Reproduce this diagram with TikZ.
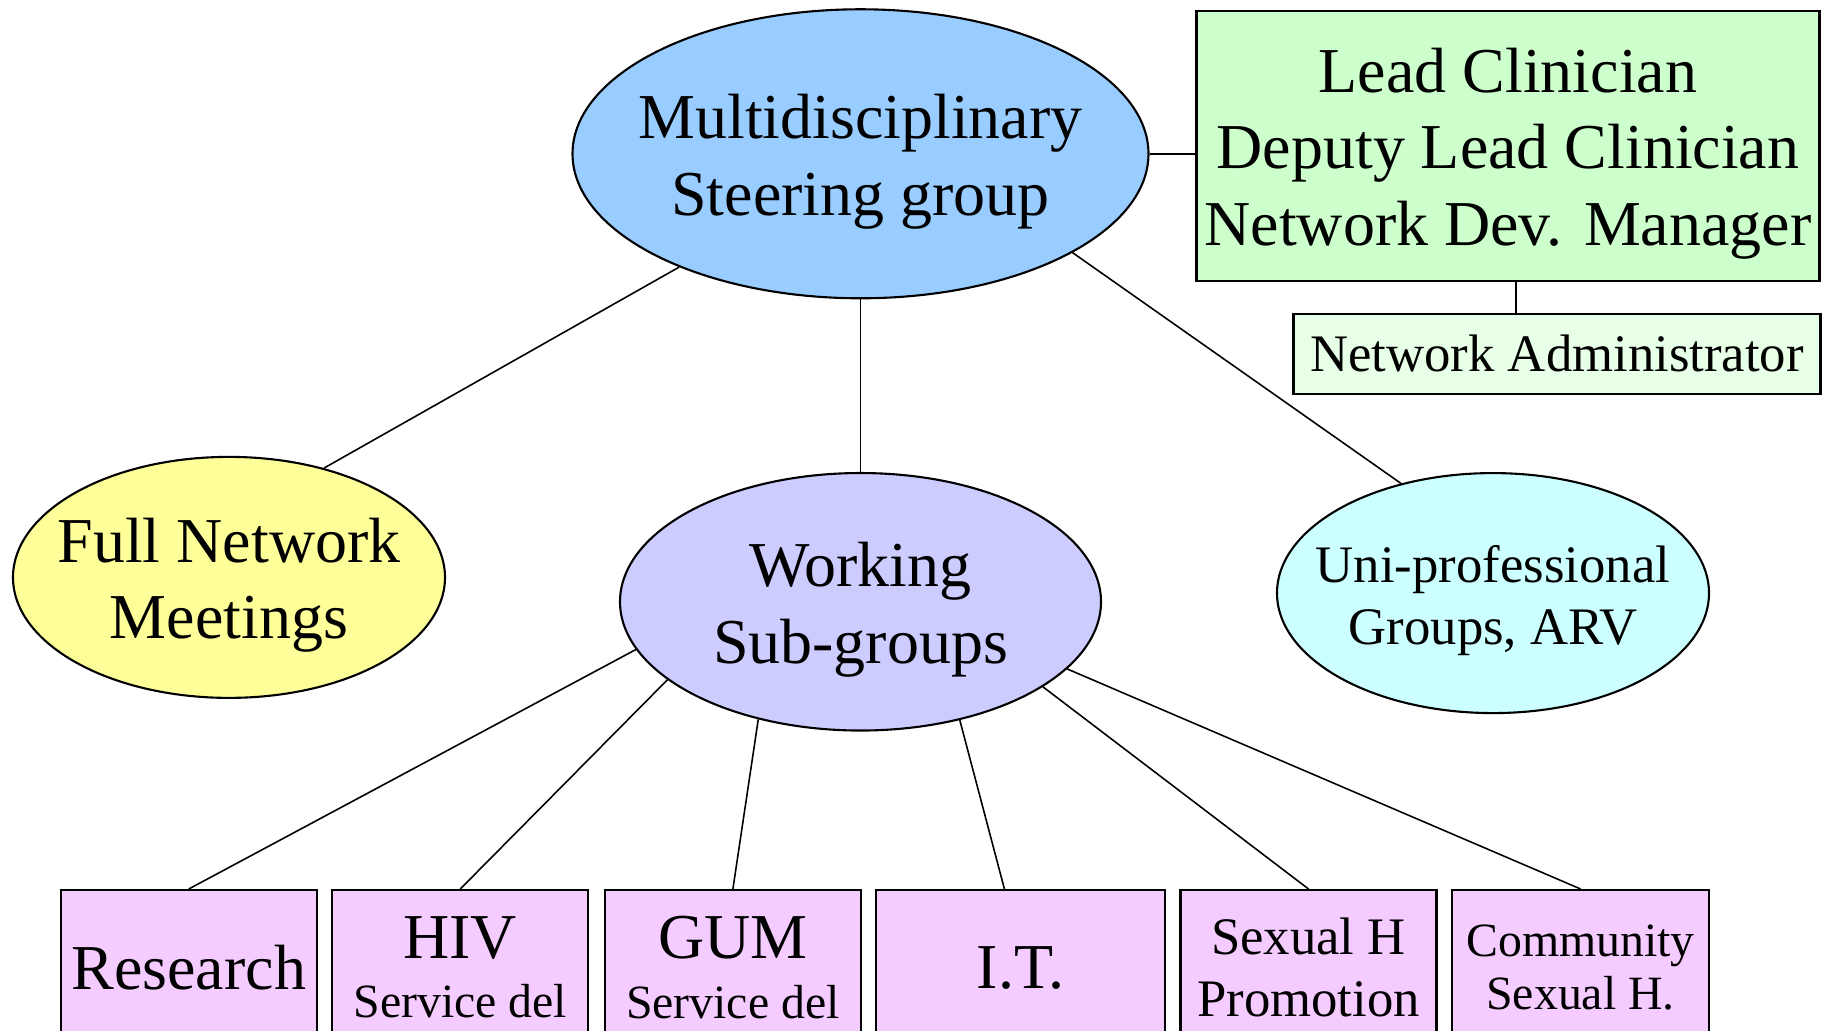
\documentclass[tikz,border=0pt]{standalone}
\usepackage{fontspec}
\setmainfont{Liberation Serif}
\usetikzlibrary{shapes.geometric}

\definecolor{steerblue}{HTML}{99CCFF}
\definecolor{leadgreen}{HTML}{CCFFCC}
\definecolor{admingreen}{HTML}{E8FFE8}
\definecolor{meetyellow}{HTML}{FFFF99}
\definecolor{worklilac}{HTML}{CCCCFF}
\definecolor{unicyan}{HTML}{CCFFFF}
\definecolor{grouppink}{HTML}{F5CCFF}

\newcommand{\bigtxt}{\fontsize{18.2}{21.7}\selectfont}
\newcommand{\midtxt}{\fontsize{15}{17.6}\selectfont}
\newcommand{\smalltxt}{\fontsize{13.6}{15.2}\selectfont}
% text a little below the middle of its shape
\newcommand{\lowtxt}[1]{\raisebox{-0.08cm}[\height][\depth]{\begin{tabular}{@{}c@{}}#1\end{tabular}}}

\begin{document}
\begin{tikzpicture}[
    oval/.style={ellipse, draw, line width=0.6pt, inner xsep=-0.6cm, inner ysep=-0.4cm},
    panel/.style={rectangle, draw, line width=0.6pt, inner sep=0pt, align=center},
    group/.style={panel, fill=grouppink, anchor=north, minimum height=1.55cm, minimum width=2.56cm},
    link/.style={line width=0.45pt}
]

\clip (0, 0) rectangle (18.27, 10.31);

% top row
\node[oval, fill=steerblue, minimum width=5.76cm, minimum height=2.89cm, font=\bigtxt] (steer) at (8.605, 8.772) {\lowtxt{Multidisciplinary\\Steering group}};
\node[rectangle, draw, line width=0.6pt, inner sep=0pt, fill=leadgreen, minimum width=6.23cm, minimum height=2.70cm, font=\bigtxt] (lead) at (15.08, 8.854) {\lowtxt{Lead Clinician\\Deputy Lead Clinician\\Network Dev. Manager}};
\node[panel, fill=admingreen, minimum width=5.27cm, minimum height=0.80cm, font=\midtxt] (admin) at (15.57, 6.774) {Network Administrator};

% middle row
\node[oval, fill=meetyellow, minimum width=4.32cm, minimum height=2.41cm, font=\bigtxt] (meet) at (2.29, 4.536) {\lowtxt{Full Network\\Meetings}};
\node[oval, fill=worklilac, minimum width=4.81cm, minimum height=2.575cm, font=\bigtxt] (work) at (8.605, 4.292) {\lowtxt{Working\\Sub-groups}};
\node[oval, fill=unicyan, minimum width=4.32cm, minimum height=2.40cm, font=\midtxt] (uni) at (14.93, 4.379) {\lowtxt{Uni-professional\\Groups, ARV}};

% sub-groups
\node[group, font=\bigtxt] (research) at (1.888, 1.42) {Research};
\node[group, font=\fontsize{18.2}{16.9}\selectfont] (hiv) at (4.603, 1.42) {HIV\\{\smalltxt Service del}};
\node[group, font=\fontsize{18.2}{16.9}\selectfont] (gum) at (7.329, 1.42) {GUM\\{\smalltxt Service del}};
\node[group, font=\bigtxt, minimum width=2.89cm] (it) at (10.207, 1.42) {I.T.};
\node[group, font=\midtxt] (sexh) at (13.085, 1.42) {Sexual H\\Promotion};
\node[group, font=\smalltxt, minimum width=2.575cm] (comm) at (15.806, 1.42) {Community\\Sexual H.};

% connectors
\draw[link] (steer.east) -- (steer.east -| lead.west);
\draw[link] ([xshift=0.08cm]lead.south) -- ([xshift=0.08cm]lead.south |- admin.north);
\draw[link] (steer.212.7) -- (meet.49.5);
\draw[link] (steer.south) -- (work.north);
\draw[link] (steer.335.8) -- (uni.130.4);

\draw[link] (work.192.6) -- (research.north);
\draw[link] (work.202.9) -- (hiv.north);
\draw[link] (work.229.8) -- (gum.north);
\draw[link] (work.310.8) -- ([xshift=-0.163cm]it.north);
\draw[link] (work.335.1) -- (sexh.north);
\draw[link] (work.342.6) -- (comm.north);

\end{tikzpicture}
\end{document}
